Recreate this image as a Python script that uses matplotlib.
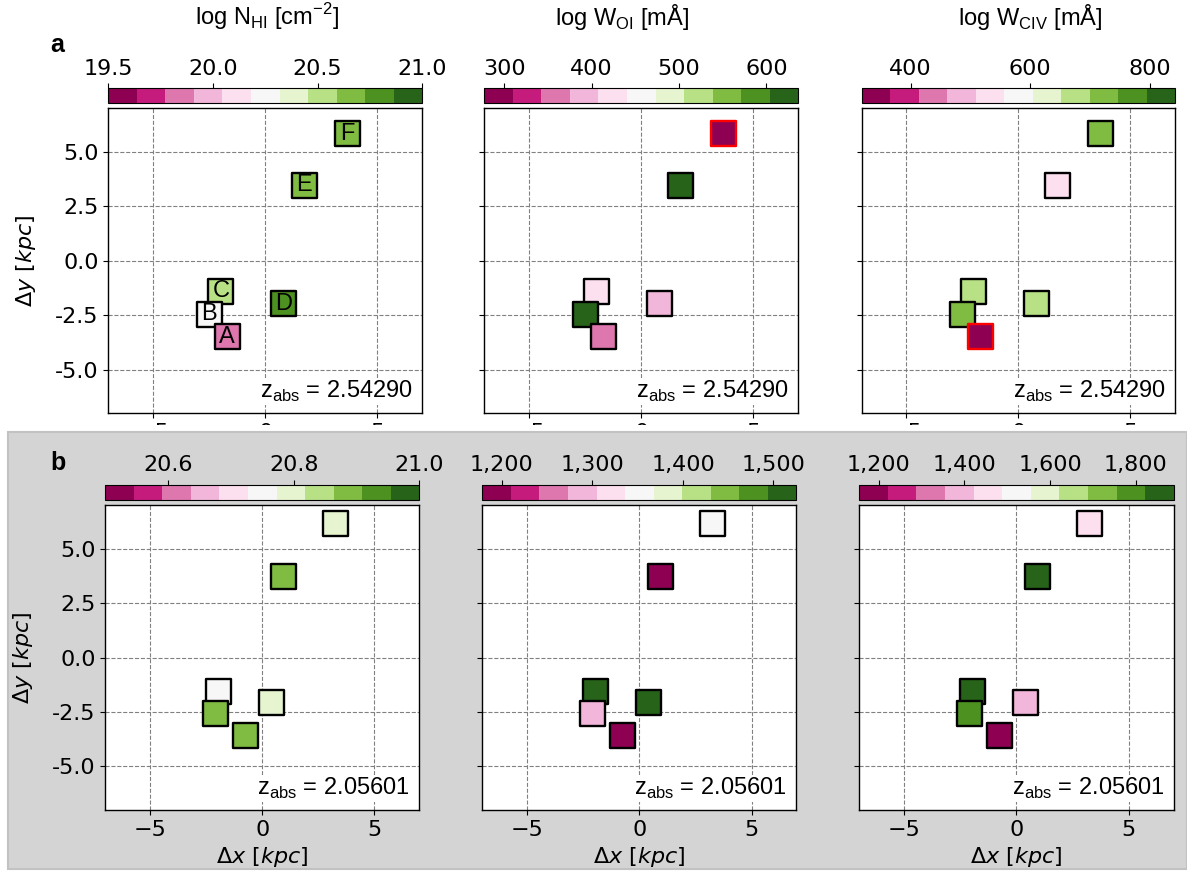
import numpy as np
import matplotlib
matplotlib.use('Agg')
from matplotlib import pyplot as plt
from matplotlib.colors import Normalize
from matplotlib.cm import ScalarMappable
from matplotlib.patches import Rectangle
from matplotlib.ticker import MultipleLocator, FormatStrFormatter, StrMethodFormatter

plt.rcParams['mathtext.fontset'] = 'custom'
plt.rcParams['mathtext.rm'] = 'DejaVu Sans'
plt.rcParams['mathtext.it'] = 'DejaVu Sans:italic'
plt.rcParams['mathtext.bf'] = 'DejaVu Sans:bold'
plt.rcParams['mathtext.sf'] = 'Liberation Sans'

W, H = 1187, 874

# clump labels
labels = ['A', 'B', 'C', 'D', 'E', 'F']

# positions [kpc]
x_a = [-1.70, -2.51, -1.98, 0.82, 1.73, 3.67]
y_a = [-3.49, -2.46, -1.39, -1.96, 3.46, 5.84]
x_b = [-0.75, -2.08, -1.94, 0.42, 0.94, 3.27]
y_b = [-3.60, -2.58, -1.54, -2.08, 3.70, 6.16]

# measured quantities per clump
nhi_a = [19.84, 20.25, 20.52, 20.80, 20.65, 20.68]
woi_a = [360, 620, 425, 390, 615, 290]
wciv_a = [340, 720, 675, 680, 530, 725]
nhi_b = [20.88, 20.89, 20.75, 20.80, 20.89, 20.79]
woi_b = [1195, 1290, 1510, 1505, 1190, 1350]
wciv_b = [1190, 1790, 1855, 1390, 1860, 1455]

# upper limits (red edges)
lim_woi_a = [False, False, False, False, False, True]
lim_wciv_a = [True, False, False, False, False, False]
no_lim = [False] * 6

# colour ranges and colourbar ticks
rng_a = [(19.5, 21.0), (277.1, 636.6), (317.9, 842.0)]
rng_b = [(20.5, 21.0), (1178.5, 1525.3), (1154.2, 1889.0)]
ticks_a = [[19.5, 20.0, 20.5, 21.0], [300, 400, 500, 600], [400, 600, 800]]
ticks_b = [[20.6, 20.8, 21.0], [1200, 1300, 1400, 1500], [1200, 1400, 1600, 1800]]
cb_titles = [r'log N$_\mathsf{HI}$ [cm$^\mathsf{-2}$]',
             r'log W$_\mathsf{OI}$ [mÅ]',
             r'log W$_\mathsf{CIV}$ [mÅ]']
z_a = 'z$_\\mathsf{abs}$ = 2.54290'
z_b = 'z$_\\mathsf{abs}$ = 2.05601'

cmap = plt.get_cmap('PiYG', 11)


def rect(l, t, r, b):
  return [l / W, 1 - b / H, (r - l) / W, (b - t) / H]


fig = plt.figure(figsize=(W / 100, H / 100), dpi=100)

# the upper panel is cropped just below its tick marks
fig.patches.append(Rectangle((0, 1 - 432 / H), 1, (432 - 425.5) / H,
                             transform=fig.transFigure, facecolor='white',
                             edgecolor='none', zorder=1))
# grey backdrop of the lower row
fig.patches.append(Rectangle((8 / W, 1 - 869 / H), 1 - 8 / W, (869 - 432) / H,
                             transform=fig.transFigure, facecolor='#d4d4d4',
                             edgecolor='#c2c2c2', lw=1.5, zorder=1))

cols_a = [(108.3, 422.3), (484.3, 798.3), (861.6, 1175.0)]
cols_b = [(105.3, 419.3), (482.4, 796.4), (859.2, 1173.7)]
rows = [dict(top=108.3, bot=413.3, cbt=88.3, cbb=103.3, cols=cols_a, x=x_a, y=y_a,
             vals=[nhi_a, woi_a, wciv_a], lims=[no_lim, lim_woi_a, lim_wciv_a],
             rng=rng_a, ticks=ticks_a, z=z_a, zo=0),
        dict(top=505.0, bot=810.0, cbt=485.0, cbb=500.0, cols=cols_b, x=x_b, y=y_b,
             vals=[nhi_b, woi_b, wciv_b], lims=[no_lim, no_lim, no_lim],
             rng=rng_b, ticks=ticks_b, z=z_b, zo=2)]

for r, row in enumerate(rows):
  for i in range(3):
    l, rr = row['cols'][i]
    ax = fig.add_axes(rect(l, row['top'], rr, row['bot']), zorder=row['zo'])
    cax = fig.add_axes(rect(l, row['cbt'], rr, row['cbb']), zorder=row['zo'])
    vmin, vmax = row['rng'][i]
    norm = Normalize(vmin=vmin, vmax=vmax)

    order = list(range(6))[::-1]
    edges = ['red' if row['lims'][i][k] else 'black' for k in order]
    ax.scatter(np.array(row['x'])[order], np.array(row['y'])[order],
               c=np.array(row['vals'][i])[order], cmap=cmap, norm=norm,
               marker='s', s=324, edgecolors=edges, linewidths=1.7, zorder=3)
    if r == 0 and i == 0:
      for k in range(6):
        ax.text(row['x'][k], row['y'][k], labels[k], ha='center', va='center',
                fontsize=17, family='Liberation Sans', zorder=4)

    ax.set_xlim(-7, 7)
    ax.set_ylim(-7, 7)
    ax.xaxis.set_major_locator(MultipleLocator(5))
    ax.yaxis.set_major_locator(MultipleLocator(2.5))
    ax.yaxis.set_major_formatter(FormatStrFormatter('%.1f'))
    ax.grid(True, ls='--', color='gray', lw=0.8)
    ax.set_axisbelow(True)
    ax.tick_params(labelsize=16)
    for sp in ax.spines.values():
      sp.set_linewidth(1.0)
    if i > 0:
      ax.tick_params(labelleft=False)
    else:
      ax.set_ylabel(r'$\Delta y\ [kpc]$', fontsize=16, labelpad=12)
    if r == 1:
      ax.set_xlabel(r'$\Delta x\ [kpc]$', fontsize=16, labelpad=4)
    ax.text(0.97, 0.03, row['z'], transform=ax.transAxes, ha='right', va='bottom',
            fontsize=17, family='Liberation Sans', zorder=5,
            bbox=dict(facecolor='white', edgecolor='none', pad=0.5))

    sm = ScalarMappable(norm=norm, cmap=cmap)
    cb = fig.colorbar(sm, cax=cax, orientation='horizontal', ticklocation='top')
    cb.set_ticks(row['ticks'][i])
    if i == 0:
      cb.ax.xaxis.set_major_formatter(FormatStrFormatter('%.1f'))
    else:
      cb.ax.xaxis.set_major_formatter(StrMethodFormatter('{x:,.0f}'))
    cb.ax.tick_params(labelsize=16)

# colourbar titles of the top row
for xc, t in zip([267, 622, 1030], cb_titles):
  fig.text(xc / W, 1 - 17 / H, t, ha='center', va='center', fontsize=17,
           family='Liberation Sans')

fig.text(57 / W, 1 - 45 / H, 'a', ha='center', va='center', fontsize=18,
         fontweight='bold', family='Liberation Sans')
fig.text(58 / W, 1 - 463 / H, 'b', ha='center', va='center', fontsize=18,
         fontweight='bold', family='Liberation Sans', zorder=3)

plt.savefig('out.png', dpi=100)
